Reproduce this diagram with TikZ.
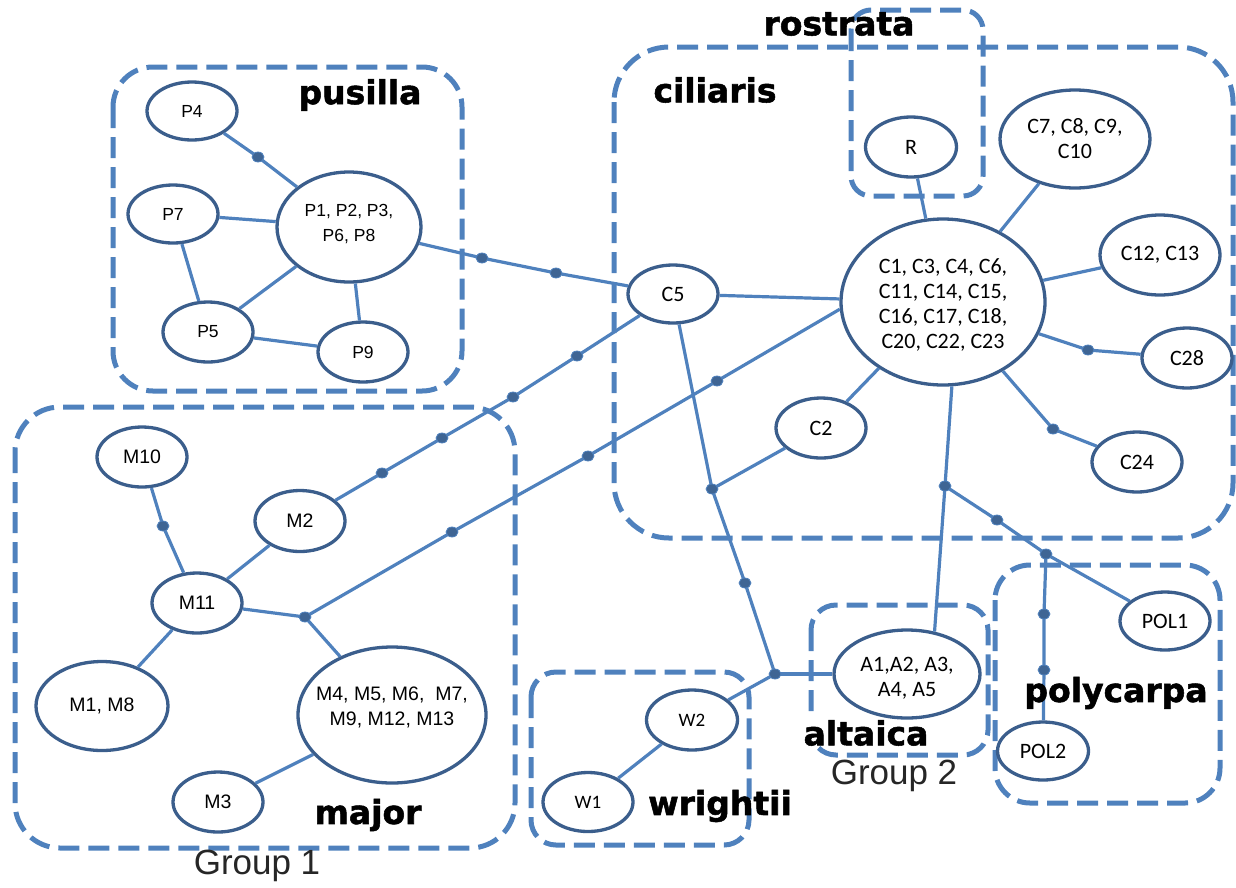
\documentclass[tikz,border=0pt]{standalone}
\usepackage{fontspec}
\setmainfont{Liberation Sans}
\newfontfamily\cfont{Carlito}
\newfontfamily\gfont[BoldFeatures={FakeBold=1.6}]{DejaVu Sans}
\usetikzlibrary{shapes.geometric}
\definecolor{lnc}{HTML}{4F81BD}
\definecolor{ndc}{HTML}{3B5E8C}
\definecolor{dtc}{HTML}{3F6594}
\begin{document}
\begin{tikzpicture}[x=1pt,y=-1pt,
 nd/.style={ellipse, draw=ndc, line width=3.3pt, fill=white, inner sep=0pt},
 ptx/.style={font=\fontsize{17.5}{25}\selectfont, align=center},
 mtx/.style={font=\fontsize{19.5}{25}\selectfont, align=center},
 ctx/.style={font=\cfont\fontsize{22}{25}\selectfont, align=center},
 grpbox/.style={draw=lnc, line width=5pt, dash pattern=on 21pt off 9pt, rounded corners=#1},
 link/.style={draw=lnc, line width=3.2pt},
 dot/.style={ellipse, fill=dtc, draw=lnc, line width=0.8pt, inner sep=0pt, minimum width=12pt, minimum height=10pt},
 gl/.style={font=\gfont\bfseries\fontsize{33}{33}\selectfont},
 grp/.style={font=\fontsize{35}{35}\selectfont, text=black!85}
]
\useasboundingbox (0,0) rectangle (1236,887);
% group boxes
\draw[grpbox=40pt] (113,67) rectangle (462,391);
\draw[grpbox=45pt] (15,407) rectangle (515,848);
\draw[grpbox=55pt] (614,47) rectangle (1233,538);
\draw[grpbox=20pt] (851,10) rectangle (983,196);
\draw[grpbox=25pt] (531,672) rectangle (749,845);
\draw[grpbox=25pt] (811,605) rectangle (988,755);
\draw[grpbox=35pt] (995,565) rectangle (1220,803);

% pusilla
\node[nd, minimum width=90pt, minimum height=58pt, label={[ptx]center:P4}] (P4) at (192,111) {};
\node[nd, minimum width=90pt, minimum height=58pt, label={[ptx]center:P7}] (P7) at (173,214) {};
\node[nd, minimum width=144pt, minimum height=110pt, label={[ptx,yshift=3pt]center:{P1, P2, P3,\\P6, P8}}] (P) at (349,227) {};
\node[nd, minimum width=90pt, minimum height=60pt, label={[ptx]center:P5}] (P5) at (208,332) {};
\node[nd, minimum width=90pt, minimum height=60pt, label={[ptx]center:P9}] (P9) at (363,352) {};

% ciliaris
\node[nd, minimum width=90pt, minimum height=58pt, label={[ctx]center:C5}] (C5) at (673,294) {};
\node[nd, minimum width=91pt, minimum height=60pt, label={[ctx]center:R}] (R) at (911,147) {};
\node[nd, minimum width=150pt, minimum height=98pt, label={[ctx]center:{C7, C8, C9,\\C10}}] (C7) at (1075,139) {};
\node[nd, minimum width=120pt, minimum height=80pt, label={[ctx]center:{C12, C13}}] (C12) at (1160,255) {};
\node[nd, minimum width=204pt, minimum height=166pt, label={[ctx,yshift=-3pt]center:{C1, C3, C4, C6,\\C11, C14, C15,\\C16, C17, C18,\\C20, C22, C23}}] (C) at (943,302) {};
\node[nd, minimum width=90pt, minimum height=60pt, label={[ctx]center:C28}] (C28) at (1187,358) {};
\node[nd, minimum width=90pt, minimum height=60pt, label={[ctx]center:C24}] (C24) at (1137,462) {};
\node[nd, minimum width=90pt, minimum height=60pt, label={[ctx]center:C2}] (C2) at (821,428) {};

% major
\node[nd, minimum width=90pt, minimum height=60pt, label={[mtx]center:M10}] (M10) at (142,457) {};
\node[nd, minimum width=90pt, minimum height=61pt, label={[mtx]center:M2}] (M2) at (300,521) {};
\node[nd, minimum width=90pt, minimum height=60pt, label={[mtx]center:M11}] (M11) at (197,603) {};
\node[nd, minimum width=132pt, minimum height=89pt, label={[mtx]center:{M1, M8}}] (M1) at (102,706) {};
\node[nd, minimum width=188pt, minimum height=136pt, label={[mtx,yshift=8pt]center:{M4, M5, M6,\ \ M7,\\M9, M12, M13}}] (M4) at (392,715) {};
\node[nd, minimum width=90pt, minimum height=60pt, label={[mtx]center:M3}] (M3) at (218,802) {};

% wrightii, altaica, polycarpa
\node[nd, minimum width=90pt, minimum height=59pt, label={[ctx,font=\cfont\fontsize{19}{23}\selectfont]center:W1}] (W1) at (588,802) {};
\node[nd, minimum width=91pt, minimum height=60pt, label={[ctx,font=\cfont\fontsize{19}{23}\selectfont]center:W2}] (W2) at (692,720) {};
\node[nd, minimum width=146pt, minimum height=88pt, label={[ctx,yshift=-4pt]center:{A1,A2, A3,\\A4, A5}}] (A) at (907,674) {};
\node[nd, minimum width=90pt, minimum height=58pt, label={[ctx]center:POL1}] (POL1) at (1165,621) {};
\node[nd, minimum width=91pt, minimum height=58pt, label={[ctx]center:POL2}] (POL2) at (1043,751) {};

% junction / dot coordinates
\coordinate (dP) at (258,157);
\coordinate (d1) at (482,258);
\coordinate (d2) at (556,273);
\coordinate (m1) at (382,473);
\coordinate (m2) at (442,438);
\coordinate (m3) at (513,397);
\coordinate (m4) at (577,356);
\coordinate (dM) at (163,526);
\coordinate (J) at (305,617);
\coordinate (j1) at (452,532);
\coordinate (j2) at (588,456);
\coordinate (j3) at (717,381);
\coordinate (k1) at (712,489);
\coordinate (k2) at (745,583);
\coordinate (K) at (775,674);
\coordinate (a1) at (945,486);
\coordinate (a2) at (997,520);
\coordinate (a3) at (1046,554);
\coordinate (q1) at (1044,614);
\coordinate (q2) at (1044,670);
\coordinate (c28d) at (1088,350);
\coordinate (c24d) at (1053,429);

% connectors
\draw[link] (P4) -- (dP) -- (P);
\draw[link] (P7) -- (P);
\draw[link] (P7) -- (P5);
\draw[link] (P5) -- (P);
\draw[link] (P5) -- (P9);
\draw[link] (P9) -- (P);
\draw[link] (P) -- (d1) -- (d2) -- (C5);
\draw[link] (M2) -- (m1) -- (m2) -- (m3) -- (m4) -- (C5);
\draw[link] (M10) -- (dM) -- (M11);
\draw[link] (M11) -- (M2);
\draw[link] (M11) -- (M1);
\draw[link] (M11) -- (J) -- (M4);
\draw[link] (J) -- (j1) -- (j2) -- (j3) -- (C.184);
\draw[link] (M4) -- (M3);
\draw[link] (C5) -- (C);
\draw[link] (C5) -- (k1) -- (k2) -- (K);
\draw[link] (C2) -- (k1);
\draw[link] (C) -- (C2);
\draw[link] (K) -- (A);
\draw[link] (K) -- (W2);
\draw[link] (W2) -- (W1);
\draw[link] (R) -- (C);
\draw[link] (C7) -- (C);
\draw[link] (C12) -- (C);
\draw[link] (C) -- (c28d) -- (C28);
\draw[link] (C) -- (c24d) -- (C24);
\draw[link] (C.276) -- (a1) -- (A.57);
\draw[link] (a1) -- (a2) -- (a3) -- (POL1);
\draw[link] (a3) -- (q1) -- (q2) -- (POL2);

% dots
\foreach \d in {dP,d1,d2,m1,m2,m3,m4,dM,J,j1,j2,j3,k1,k2,K,a1,a2,a3,q1,q2,c28d,c24d}
  \node[dot] (n\d) at (\d) {};

% labels
\node[gl] (lpus) at (360,95) {pusilla};
\node[gl] (lcil) at (715,90) {ciliaris};
\node[gl] (lros) at (839,24) {rostrata};
\node[gl] (lmaj) at (368,815) {major};
\node[gl] (lwri) at (720,806) {wrightii};
\node[gl, fill=white, inner sep=0pt] (lalt) at (866,733) {altaica};
\node[gl] (lpol) at (1116,693) {polycarpa};
\node[grp] (g1) at (257,866) {Group 1};
\node[grp] (g2) at (894,776) {Group 2};
\end{tikzpicture}
\end{document}
